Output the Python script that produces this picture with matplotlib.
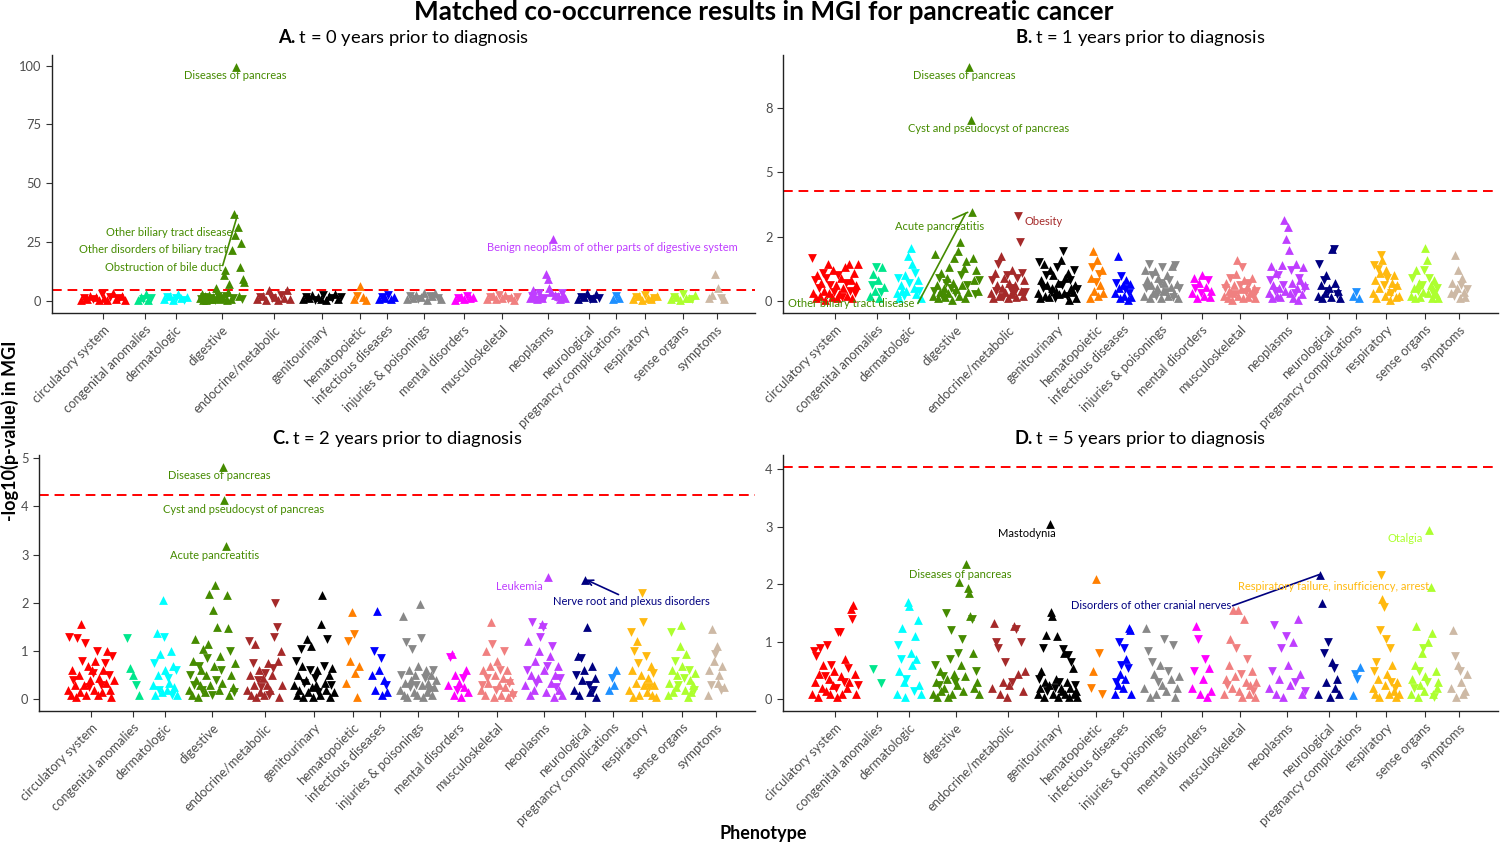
import matplotlib
matplotlib.use("Agg")
import matplotlib.pyplot as plt

plt.rcParams["font.family"] = ["Lato", "DejaVu Sans"]
plt.rcParams["mathtext.fontset"] = "custom"
plt.rcParams["mathtext.rm"] = "Lato"
plt.rcParams["mathtext.bf"] = "Lato:bold"

categories = ["circulatory system", "congenital anomalies", "dermatologic", "digestive",
              "endocrine/metabolic", "genitourinary", "hematopoietic", "infectious diseases",
              "injuries & poisonings", "mental disorders", "musculoskeletal", "neoplasms",
              "neurological", "pregnancy complications", "respiratory", "sense organs", "symptoms"]
colors = ["#FF0000", "#00E68C", "#00FFFF", "#458B00", "#A52A2A", "#000000", "#FF7F00",
          "#0000FF", "#888888", "#FF00FF", "#F08080", "#BF3EFF", "#000080", "#1E90FF",
          "#FFB90F", "#ADFF2F", "#CDB9A5"]
# number of phecodes in each category (sets the width on the x axis)
n_codes = [46, 15, 25, 46, 35, 40, 14, 17, 36, 21, 33, 37, 23, 9, 27, 28, 17]

# -log10(p) per phecode, in phecode order; negative sign = lower risk (down triangle)
t0 = [
    [0.3, -1.2, 0.8, 2.1, -0.5, 1.5, 0.2, -2.8, 1.0, 0.4, -1.7, 3.0, 0.6, -0.9, 1.9, 0.3],
    [0.4, 1.5, -0.8, 2.6, 0.3, -1.1],
    [0.5, -1.4, 2.0, 0.3, -0.9, 2.6, 1.1, -0.4, 1.7],
    [1.0, -0.5, 2.8, 0.4, -1.5, 1.9, 0.3, -0.8, 2.2, 0.6, -1.2, 0.7, 1.5, -0.4, 5.5, 0.9, -2.0, 1.6, 0.5, -0.9,
     1.2, 10.9, 12.8, -1.8, 0.4, 3.5, 6.9, 0.8, 21.3, -1.0, 36.9, 28.1, 99.6, 31.2, 2.0, 14.2, 24.4, -0.6, 9.2, 7.8],
    [0.6, -1.3, 2.0, 0.4, 4.5, -0.9, 1.5, 0.3, -2.2, 1.1, 4.6, 0.5],
    [0.5, -1.6, 1.0, 2.2, -0.4, 1.4, 0.8, -2.5, 0.3, 1.8, -1.0, 2.6, 0.6, -1.3],
    [0.8, -2.0, 6.4, 1.5, 0.4],
    [0.5, -1.4, 1.0, -2.2, 0.6, 1.3],
    [0.6, -1.8, 1.2, 2.4, -0.7, 1.5, 3.2, 0.4, -2.0, 1.8, 3.4, -1.0, 0.8],
    [0.4, -1.2, 1.6, 0.5, -2.0, 0.9, 1.3],
    [0.7, -1.5, 1.9, 0.5, -2.3, 1.0, 2.4, -0.8, 1.4, 0.4, -1.7],
    [1.0, -2.0, 4.5, 1.5, 0.6, -3.0, 2.2, 1.2, -1.0, 11.3, 9.2, 5.5, 3.6, 26.2, 2.4, -1.5, 1.8, 0.7, -3.2, 2.5, 1.0],
    [0.8, -1.7, 1.4, 3.3, -0.6, 1.2, 2.9, -1.0],
    [0.5, -1.8, 1.0],
    [0.6, -1.5, 1.8, 0.4, -2.2, 1.2, 0.8, -1.0, 2.0],
    [0.7, -1.3, 1.6, 0.4, -2.6, 1.2, 0.9, -0.6, 2.2],
    [1.0, 2.5, 11.5, 5.2, -1.2, 0.6],
]
t1 = [
    [-1.68, 0.3, -0.8, 0.1, 1.0, -0.5, 0.2, 0.7, -1.1, 0.4, 0.05, -0.9, 1.45, 0.3, -0.6, 0.15, 1.2, -0.35,
     0.6, 0.1, -1.0, 0.25, 0.9, -0.15, 0.5, 1.3, -0.7, 0.2, 1.45, -0.4, 0.8, 0.1, 1.1, -0.3, 0.6, 1.42],
    [0.2, -0.6, 1.05, 0.4, -1.3, 0.8, 0.1, -0.35, 1.3, 0.55],
    [0.3, -0.9, 0.1, 0.6, 0.4, -0.2, 1.0, 0.4, 1.75, -0.7, 2.07, 1.45, 0.5, -1.1, 0.25, 0.8, -0.4, 0.1],
    [0.2, -0.4, 1.84, 0.6, 0.1, -0.9, 0.35, 1.1, -0.2, 0.5, 0.15, -0.7, 0.9, 0.3, 1.3, -0.5, 0.05, 0.7, 1.68, -0.3,
     0.45, 1.95, 0.2, 2.3, -1.0, 0.6, 1.27, 0.1, 1.55, -0.6, 0.35, 9.1, 7.04, 3.44, 1.68, 0.8, -0.25, 1.2, 0.4, -0.8],
    [0.3, -0.8, 0.1, 1.1, -0.4, 0.6, -1.45, 0.2, 1.74, 0.5, -0.15, 0.9, 0.35, -1.0, 0.1, 0.7, -0.5, 0.25, 1.2, -0.3,
     0.6, 0.15, -0.9, -3.31, -2.3, 0.4, -1.1, 0.2, 0.8, -0.35],
    [0.3, -1.5, 0.1, 0.8, -0.5, 1.45, 0.2, -1.0, 0.6, 0.15, 1.2, -0.35, 0.5, 1.0, -0.1, 0.4, -1.3, 0.7, 0.25, 1.6,
     -0.6, -1.95, 0.3, 0.9, -0.2, 1.1, 0.05, -0.8, 0.5, 0.35, -1.2, 0.6, 0.1, -0.45],
    [0.1, 0.9, -1.3, 1.95, 0.4, -0.75, 1.6, 0.2, -1.05, 0.6, 1.2, 0.3],
    [0.3, -0.7, 1.75, 0.5, 0.1, -0.95, 0.6, 0.2, -0.45, 0.8, 0.05, -0.3, 0.65, 0.15],
    [0.2, 1.2, -0.5, 0.8, -1.43, 0.1, 0.6, -1.0, 0.3, 1.15, -0.2, 0.5, 0.9, -0.7, 0.1, -1.3, 0.4, 0.7, -0.35, 1.0,
     0.2, -0.8, 0.55, 1.35, -0.15, 0.3, -1.4, 0.65, 0.1, -0.5],
    [0.3, 0.9, -0.5, 0.1, 0.7, -0.3, 1.0, 0.2, 0.55, -0.8, 0.15, 0.4],
    [0.2, -0.5, 0.7, 0.1, 0.4, -0.9, 0.3, 0.05, 0.6, -0.25, 1.05, 1.58, 0.2, -0.6, 0.45, -1.3, 0.1, 0.8, -0.35, 0.55,
     0.15, -0.7, 0.3, 0.9, -0.2, 0.5, 0.1, -0.4],
    [0.3, -0.8, 1.35, 0.1, 0.6, -0.4, 1.1, 0.2, -1.0, 0.5, 0.15, 1.4, -0.6, 3.14, 0.4, 2.4, 2.88, 1.99, 0.3, -1.2,
     0.7, 0.1, -0.3, 1.45, 0.5, 0.05, -0.9, 0.8, 0.25, 1.3, -0.5, 0.6],
    [0.2, -1.42, 0.6, 0.1, -0.8, 0.3, 1.0, -0.4, 0.5, 0.15, 2.0, -2.0, 0.7, -0.25, 0.4, 0.1],
    [0.2, -0.35, 0.1],
    [0.3, -1.4, 0.8, 0.1, -1.25, 0.5, 1.1, -1.8, 1.6, -0.6, 0.2, 1.2, -0.9, 0.4, 0.05, -0.3, 0.7, 1.0, -0.5, 0.15,
     0.6, 0.2],
    [0.2, -0.9, 0.5, 0.1, 1.2, -0.4, 0.7, 0.15, -0.6, 0.35, -1.2, 2.05, 1.6, 0.3, -0.9, 0.6, 0.1, -0.3, 0.8, 0.25,
     -0.5, 0.1],
    [0.3, 0.7, -0.2, 1.8, 0.5, 1.2, 0.1, -0.6, 0.9, 0.35, 0.15, -0.45],
]
t2 = [
    [0.2, -1.3, 0.1, 0.6, -0.4, 0.3, 0.05, -1.28, 0.5, 0.15, 1.57, -0.8, 0.3, -1.17, 0.1, 0.7, -0.25, 0.4, 0.6,
     -0.55, 0.2, 0.8, -1.0, 0.1, 0.45, -0.3, 0.15, 0.6, -0.75, 0.35, 1.0, -0.5, 0.2, 0.05, -0.9, 0.4],
    [-1.28, 0.65, 0.5, -0.3, 0.1],
    [0.3, -0.75, 0.1, 1.37, 0.5, -0.2, 0.95, 0.15, 2.05, -1.3, 0.6, 0.2, -0.45, 0.35, 1.0, -0.1, 0.7, 0.25, -0.6, 0.1],
    [0.2, -0.5, 0.1, 0.8, -0.3, 1.25, 0.4, 0.05, -0.7, 0.3, 0.6, -0.2, 1.05, 0.15, 0.5, -0.85, 1.15, 2.18, 0.3,
     -0.1, 1.86, 0.7, 2.37, -0.4, 1.5, 0.2, 0.9, -0.6, 0.35, 4.82, 4.13, 3.17, 2.16, 1.47, 0.1, -1.0, 0.5, 0.25,
     -0.15, 0.75],
    [0.2, -1.2, 0.5, 0.1, -0.75, 0.3, 1.15, 0.05, -0.4, 0.6, 0.15, -0.25, 0.45, 0.1, -0.55, 0.3, 0.75, -0.1, 0.2,
     0.5, -0.65, -1.3, -2.0, -1.5, 0.8, 0.05, 1.0, 0.3],
    [0.3, -0.8, 0.1, 0.5, 0.2, -1.05, 0.7, 0.05, -0.35, 0.4, 1.25, 0.15, -0.6, 1.1, 0.25, 0.05, -0.45, 0.3, 0.6,
     -0.15, 0.1, 1.57, 2.17, -0.7, 0.35, 0.2, -1.25, 0.5, 0.05, -0.3, 0.65, 0.15],
    [0.35, -1.2, 0.8, 1.8, -1.35, 0.55, 0.05, 0.7],
    [0.5, -1.0, 0.2, 1.83, 0.6, -0.85, 0.1, 0.4, -0.3, 0.15],
    [0.2, -0.5, 1.72, 0.1, 0.35, -1.18, 0.05, 0.6, -0.25, 0.4, -1.05, 0.15, 0.5, -0.3, 0.1, 0.7, 1.98, -1.27, 0.3,
     0.05, -0.45, 0.6, 0.15, 0.35, -0.2, 0.5, 0.1, -0.6, 0.25, 0.4],
    [0.3, -0.88, 0.95, 0.1, 0.5, -0.2, 0.35, 0.05, -0.45, 0.25, 0.6, 0.15],
    [0.2, -0.3, 0.6, 0.1, 1.0, -0.45, 0.35, 0.7, 1.6, -1.15, 0.05, 0.5, -0.2, 0.8, 0.3, -0.6, 0.1, 0.45, -1.0, 0.25,
     0.6, 0.05, -0.35, 0.4, 0.15, -0.1],
    [0.3, -0.6, 1.2, 0.1, 0.5, -1.6, 0.2, 0.8, -0.35, 0.45, 1.0, -1.3, 1.57, -1.5, 0.6, 0.15, -0.7, 2.53, 0.9, 0.35,
     -1.1, 0.05, 0.5, -0.25, 0.7, 0.2, -0.45, 0.1],
    [0.2, -0.5, 0.9, 0.1, -0.85, 0.4, 0.6, 2.47, 1.5, -0.3, 0.15, 0.7, -0.2, 0.45, 0.05],
    [0.2, -0.45, 0.3, 0.6],
    [0.2, -1.4, 0.6, 0.05, -1.0, 0.35, 1.2, -0.75, 0.1, 0.5, -2.2, -1.6, 0.3, -0.9, 0.15, 0.45, -0.25, 0.7, 0.1,
     -0.55, 0.3, 0.05],
    [0.1, 0.35, -1.4, 0.6, 0.15, -0.8, 0.25, 0.5, -0.3, 1.1, 1.55, 0.7, -0.45, 0.2, 0.95, 0.05, -0.6, 0.4, 0.15,
     0.3, -0.2, 0.55],
    [0.1, 0.6, -0.3, 1.45, 0.8, -0.95, 1.1, 0.35, 0.5, -0.2, 0.7, 0.25],
]
t5 = [
    [0.1, -0.85, 0.3, -0.75, 0.05, 0.45, -0.9, 0.2, 0.6, -0.4, 0.15, -0.95, 0.35, 0.1, -0.6, 0.25, 0.5, -0.2, 0.05,
     -1.17, -1.17, 0.4, 0.1, -0.3, 0.7, 0.2, -0.55, 0.3, 1.58, -1.4, 1.65, 0.45, 0.1, -0.25],
    [-0.53, -0.28],
    [0.1, -0.95, 0.5, -0.7, 1.25, 0.3, 0.05, -0.35, 1.7, 1.62, 0.8, 0.6, -0.15, 1.1, 0.7, 1.38, 0.25, 0.1],
    [0.1, -0.6, 0.3, 0.05, -0.25, 0.5, 0.15, -0.4, 0.2, -1.5, 0.35, 0.05, -0.7, -1.2, 0.1, 0.45, -0.3, 0.25, -0.8,
     2.05, 0.6, -1.05, 0.15, 0.4, 2.35, 1.93, 1.85, 1.45, -1.4, 0.8, 0.2, -0.5, 0.3, 0.1],
    [0.2, 1.33, -1.0, -0.9, 0.1, 0.3, -0.65, 0.05, 0.25, -0.3, 1.27, -1.22, 0.45, -1.0, 0.15, 0.5],
    [0.1, -0.35, 0.2, 0.5, -0.9, 0.05, 0.3, 1.12, -0.15, 0.25, 3.05, 1.52, 1.45, 0.1, -0.2, 0.35, 1.1, 0.05, -0.3,
     0.2, 0.15, -0.87, 0.8, 0.1, 0.3, -0.78, 0.05, 0.2, -0.65, 0.55, 0.1, -0.25, 0.15, 0.05],
    [-0.2, 0.5, 2.1, -0.8, -0.1],
    [0.1, -0.3, 0.25, -1.0, 0.45, -0.6, 0.2, -0.9, 0.35, 0.7, -0.55, 1.25, 1.2, 0.1],
    [0.2, 1.25, -0.85, 0.05, -0.65, 0.45, 0.1, -0.3, 0.6, 0.25, -1.05, 0.15, -0.5, 0.35, -0.95, 0.05, 0.2, 0.4],
    [0.2, -0.5, 1.27, -1.05, 0.1, 0.35, -0.7, 0.05, 0.55, 0.15],
    [0.1, 0.35, -0.25, 0.6, 1.05, 0.2, 1.55, 0.4, -0.9, 1.55, 0.15, -0.45, 0.05, 1.4, 0.3, -0.7, 0.1, 0.25, 0.5,
     -0.15, 0.05, 0.3],
    [0.2, -0.5, -1.3, 0.1, 0.35, -0.9, 0.05, -1.1, 0.6, 0.25, 1.0, -0.3, 1.4, 0.45, 0.1, -0.15],
    [0.1, 2.17, 1.67, -0.8, 0.3, -1.0, 0.05, 0.65, -0.55, 0.2, 0.35, 0.1],
    [0.07, -0.45, -0.35, 0.57],
    [0.2, -0.5, 0.1, -0.65, 0.35, 0.05, -1.2, -2.17, 1.75, -1.6, 0.25, -1.05, 0.45, 0.1, -0.9, -0.3, 0.6, 0.15,
     -0.2, 0.05, 0.3, 0.1],
    [0.1, 0.35, -0.2, 0.6, 1.28, 0.05, -0.5, 0.25, 0.8, -0.9, 0.15, 0.4, -0.3, 1.0, 2.94, 1.95, 1.15, 0.1, -0.05,
     0.5, 0.2, 0.3],
    [0.2, 1.2, -0.75, 0.05, 0.6, -0.5, 0.3, 0.1, 0.15, 0.45],
]

years = [0, 1, 2, 5]
letters = ["A", "B", "C", "D"]
thresholds = [4.55, 4.28, 4.23, 4.05]
panel_data = [t0, t1, t2, t5]

GAP = 11
starts = []
pos = 0
for w in n_codes:
    starts.append(pos)
    pos += w + GAP
centers = [s + w / 2 for s, w in zip(starts, n_codes)]

fig = plt.figure(figsize=(15, 8.44), dpi=100)
rects = [
    [52 / 1500, 531 / 844, 703 / 1500, 258 / 844],
    [783 / 1500, 531 / 844, 715 / 1500, 258 / 844],
    [39 / 1500, 133 / 844, 716 / 1500, 256 / 844],
    [783 / 1500, 133 / 844, 715 / 1500, 256 / 844],
]
ylims = [(-5.3, 104.5), (-0.47, 9.55), (-0.24, 5.06), (-0.2, 4.25)]
yticks = [[0, 25, 50, 75, 100], [0, 2.5, 5, 7.5], [0, 1, 2, 3, 4, 5], [0, 1, 2, 3, 4]]
ytlabels = [["0", "25", "50", "75", "100"], ["0", "2", "5", "8"],
            ["0", "1", "2", "3", "4", "5"], ["0", "1", "2", "3", "4"]]

axes = []
for k in range(4):
    ax = fig.add_axes(rects[k])
    axes.append(ax)
    for ci, vals in enumerate(panel_data[k]):
        n = len(vals)
        for sign, mk in ((1, "^"), (-1, "v")):
            xs = [starts[ci] + n_codes[ci] * (j + 0.5) / n for j, v in enumerate(vals) if v * sign > 0]
            ys = [abs(v) for v in vals if v * sign > 0]
            ax.scatter(xs, ys, marker=mk, s=40, color=colors[ci], linewidths=0, zorder=3)
    ax.axhline(thresholds[k], color="#FF0000", lw=1.4, ls=(0, (5, 3)), zorder=2)
    ax.set_xlim(-28, 675)
    ax.set_ylim(*ylims[k])
    ax.set_yticks(yticks[k])
    ax.set_yticklabels(ytlabels[k])
    ax.set_xticks(centers)
    ax.set_xticklabels(categories, rotation=45, ha="right", va="top", rotation_mode="anchor")
    for s in ("top", "right"):
        ax.spines[s].set_visible(False)
    for s in ("left", "bottom"):
        ax.spines[s].set_linewidth(1.0)
        ax.spines[s].set_color("#222222")
    ax.tick_params(axis="both", direction="out", length=4, width=0.8, color="#333333",
                   labelcolor="#4D4D4D", labelsize=9.3)
    cx = (rects[k][0] + rects[k][2] / 2)
    ty = 0.955 if k < 2 else 0.481
    fig.text(cx, ty, r"$\mathbf{%s.}$t = %d years prior to diagnosis" % (letters[k], years[k]),
             ha="center", va="center", fontsize=13.2)

dig, endo, geni, neop, neur, resp, sens = colors[3], colors[4], colors[5], colors[11], colors[12], colors[14], colors[15]
fs = 8.0


def label(ax, txt, x, y, c, ha="center", line=None, arrow=False):
    ax.text(x, y, txt, color=c, fontsize=fs, ha=ha, va="center", zorder=5)
    if line is not None:
        (x0, y0), (x1, y1) = line
        style = "->" if arrow else "-"
        ax.annotate("", xy=(x1, y1), xytext=(x0, y0),
                    arrowprops=dict(arrowstyle=style, color=c, lw=1.2, shrinkA=0, shrinkB=0), zorder=4)


a, b, c, d = axes
label(a, "Diseases of pancreas", 155, 95.7, dig)
label(a, "Other biliary tract disease", 152, 29.1, dig, ha="right")
label(a, "Other disorders of biliary tract", 148, 21.7, dig, ha="right")
label(a, "Obstruction of bile duct", 142, 14.2, dig, ha="right", line=((142.7, 14.9), (157.3, 36.2)))
label(a, "Benign neoplasm of other parts of digestive system", 532, 22.5, neop)

label(b, "Diseases of pancreas", 150, 8.75, dig)
label(b, "Cyst and pseudocyst of pancreas", 174, 6.7, dig)
label(b, "Acute pancreatitis", 126, 2.88, dig, line=((138.9, 3.18), (153.6, 3.44)))
label(b, "Other biliary tract disease", 38.6, -0.1, dig, line=((104.6, -0.1), (151.6, 3.4)))
label(b, "Obesity", 209, 3.07, endo, ha="left")

label(c, "Diseases of pancreas", 149, 4.63, dig)
label(c, "Cyst and pseudocyst of pancreas", 172.5, 3.93, dig)
label(c, "Acute pancreatitis", 144, 2.97, dig)
label(c, "Leukemia", 444, 2.33, neop)
label(c, "Nerve root and plexus disorders", 554, 2.03, neur, line=((541, 2.17), (509, 2.48)), arrow=True)

label(d, "Mastodynia", 212, 2.88, geni)
label(d, "Diseases of pancreas", 146.4, 2.18, dig)
label(d, "Disorders of other cranial nerves", 333.6, 1.63, neur, line=((414, 1.63), (499, 2.17)))
label(d, "Otalgia", 584, 2.8, sens)
label(d, "Respiratory failure, insufficiency, arrest", 513.6, 1.97, resp)

fig.text(0.509, 0.986, "Matched co-occurrence results in MGI for pancreatic cancer",
         ha="center", va="center", fontsize=18.8, fontweight="bold")
fig.text(0.0067, 0.49, "-log10(p-value) in MGI", rotation=90, ha="center", va="center",
         fontsize=13, fontweight="bold")
fig.text(0.509, 0.013, "Phenotype", ha="center", va="center", fontsize=13, fontweight="bold")

fig.savefig("out.png", dpi=100)
